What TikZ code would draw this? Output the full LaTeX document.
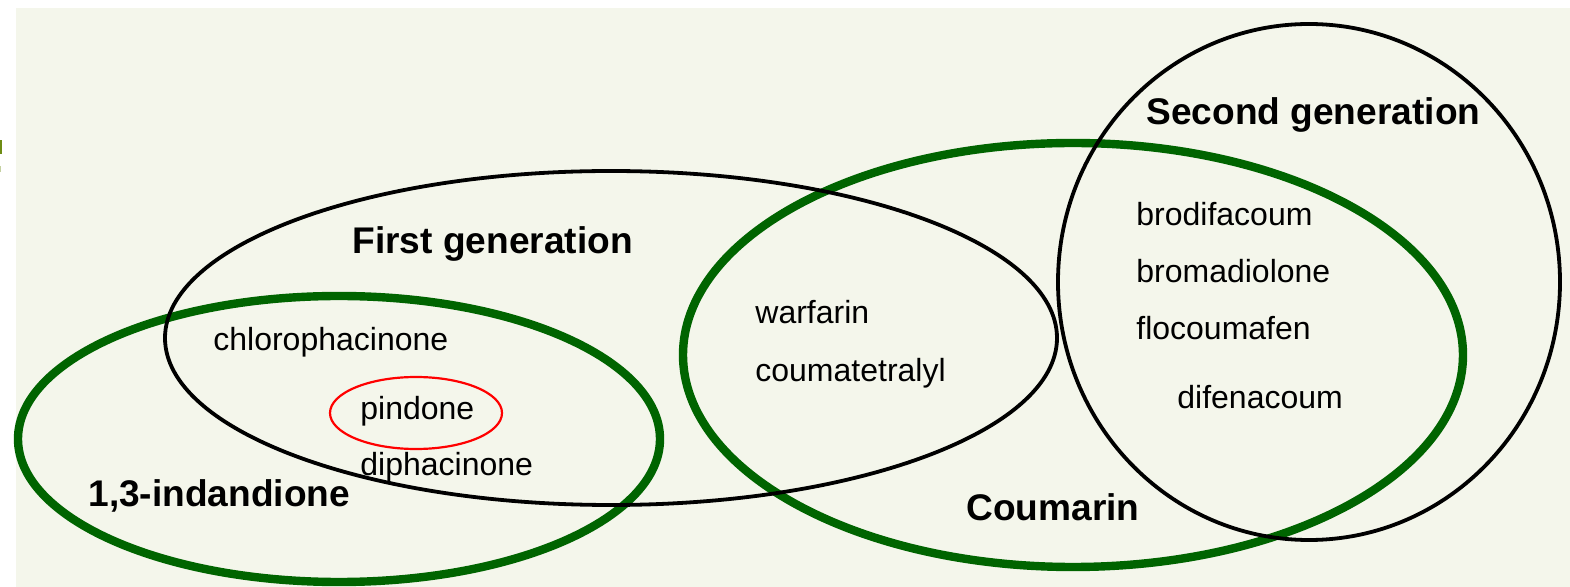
\documentclass[tikz,border=0pt]{standalone}
\usepackage{fontspec}
\setmainfont{Liberation Sans}
\definecolor{bgcol}{RGB}{244,246,235}
\definecolor{vgreen}{RGB}{0,100,0}
\definecolor{olivebit}{RGB}{110,140,20}
\tikzset{
  lbl/.style={anchor=base west, inner sep=0pt, font=\fontsize{16}{19}\selectfont},
  title/.style={anchor=base west, inner sep=0pt, font=\fontsize{18.55}{21}\selectfont\bfseries},
  greenset/.style={draw=vgreen, line width=4.2pt},
  blackset/.style={draw=black, line width=1.9pt},
  redset/.style={draw=red, line width=1.1pt}
}
\begin{document}
\begin{tikzpicture}[x=0.5pt,y=-0.5pt]
\useasboundingbox (0,0) rectangle (1570,587);
\fill[white] (0,0) rectangle (1570,587);
\fill[bgcol] (16,8) rectangle (1570,587);
% cut-off fragment at left edge
\fill[olivebit] (0,140) rectangle (2,154);
\fill[olivebit!40] (0,166) rectangle (1,172);

% sets
\draw[greenset] (339,439) ellipse [x radius=160.5pt, y radius=71.5pt];
\draw[greenset] (1073,355) ellipse [x radius=195pt, y radius=106pt];
\draw[blackset] (611,338) ellipse [x radius=223pt, y radius=83.5pt];
\draw[blackset] (1309,282) ellipse [x radius=125.5pt, y radius=129pt];
\draw[redset] (416,413) ellipse [x radius=43pt, y radius=18pt];

% titles
\node[title] (first) at (352,254) {First generation};
\node[title] (second) at (1146,125) {Second generation};
\node[title] (indan) at (88,507) {1,3-indandione};
\node[title] (coum) at (966,521) {Coumarin};

% members
\node[lbl] (chloro) at (213,351) {chlorophacinone};
\node[lbl] (pind) at (360,420) {pindone};
\node[lbl] (diph) at (360,476) {diphacinone};
\node[lbl] (warf) at (755,324) {warfarin};
\node[lbl] (coumt) at (755,382) {coumatetralyl};
\node[lbl] (brodi) at (1136,226) {brodifacoum};
\node[lbl] (broma) at (1136,283) {bromadiolone};
\node[lbl] (floco) at (1136,340) {flocoumafen};
\node[lbl] (difen) at (1177,409) {difenacoum};
\end{tikzpicture}
\end{document}
